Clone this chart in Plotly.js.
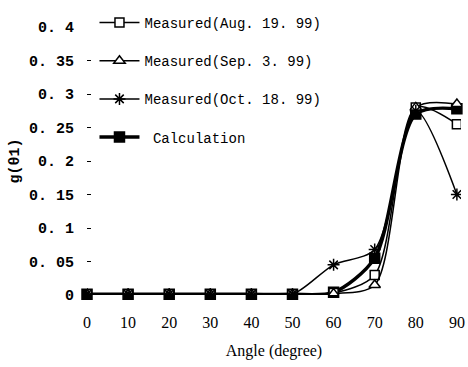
<!DOCTYPE html>
<html><head><meta charset="utf-8">
<script src="https://cdn.plot.ly/plotly-3.0.1.min.js"></script>
<style>html,body{margin:0;padding:0;background:#fff}</style>
</head><body><div id="chart" style="width:468px;height:367px"></div>
<script>
const angles = [0, 10, 20, 30, 40, 50, 60, 70, 80, 90];
const measuredAug = [0.001, 0.001, 0.001, 0.001, 0.001, 0.001, 0.003, 0.03, 0.28, 0.255];
const measuredSep = [0.001, 0.001, 0.001, 0.001, 0.001, 0.001, 0.002, 0.015, 0.28, 0.285];
const measuredOct = [0.001, 0.001, 0.001, 0.001, 0.001, 0.001, 0.045, 0.068, 0.275, 0.15];
const calculation = [0.001, 0.001, 0.001, 0.001, 0.001, 0.001, 0.004, 0.055, 0.27, 0.278];
const yTickVals = [0, 0.05, 0.1, 0.15, 0.2, 0.25, 0.3, 0.35, 0.4];
const yTickText = ['0', '0. 05', '0. 1', '0. 15', '0. 2', '0. 25', '0. 3', '0. 35', '0. 4'];
const xTickVals = [0, 10, 20, 30, 40, 50, 60, 70, 80, 90];

const legFont = {family: 'Liberation Mono, monospace', size: 14, color: '#000'};
function tr(name, y, sym, size, fill, width, grp, z) {
  return {x: angles, y: y, name: name, type: 'scatter', mode: 'lines+markers',
    legendgroup: grp, cliponaxis: false, zorder: z,
    line: {color: '#000', width: width, shape: 'spline', smoothing: 0.8},
    marker: {symbol: sym, size: size, color: fill, line: {color: '#000', width: 1.5}}};
}
const data = [
  tr('Measured(Aug. 19. 99)', measuredAug, 'square', 9, '#fff', 1.5, 'a', 1),
  tr('Measured(Sep. 3. 99)', measuredSep, 'triangle-up', 10, '#fff', 1.5, 'b', 1),
  tr('Measured(Oct. 18. 99)', measuredOct, 'asterisk-open', 10, '#000', 1.5, 'c', 1),
  tr(' Calculation', calculation, 'square', 10, '#000', 3.5, 'd', 0)
];
const layout = {
  width: 468, height: 367,
  margin: {l: 87, r: 7, t: 15, b: 72},
  paper_bgcolor: '#fff', plot_bgcolor: '#fff',
  showlegend: true,
  legend: {x: 0.02, y: 1.075, xanchor: 'left', yanchor: 'top', font: legFont,
    bgcolor: 'rgba(0,0,0,0)', traceorder: 'grouped', tracegroupgap: 17, itemwidth: 40},
  xaxis: {range: [0, 91], tickvals: xTickVals, showgrid: false, zeroline: false,
    showline: true, linecolor: '#000', linewidth: 1, ticks: '', ticklabelstandoff: 13,
    tickfont: {family: 'Liberation Serif, serif', size: 16, color: '#000'},
    title: {text: 'Angle (degree)', font: {family: 'Liberation Serif, serif', size: 16, color: '#000'}, standoff: 14}},
  yaxis: {range: [0, 0.4], tickvals: yTickVals, ticktext: yTickText, showgrid: false, zeroline: false,
    showline: true, linecolor: '#000', linewidth: 2, ticks: 'inside', ticklen: 4, tickcolor: '#000',
    ticklabelstandoff: 8,
    tickfont: {family: 'Liberation Mono, monospace', size: 15, color: '#000', weight: 'bold'},
    title: {text: 'g(θ1)', font: {family: 'Liberation Mono, monospace', size: 15, color: '#000', weight: 'bold'}, standoff: 6}}
};
Plotly.newPlot('chart', data, layout, {staticPlot: true, displayModeBar: false});
</script></body></html>
